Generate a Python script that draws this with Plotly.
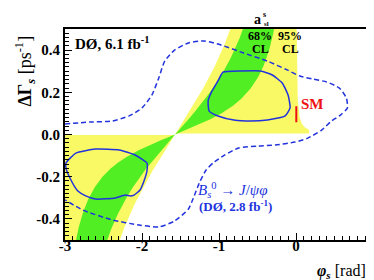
import numpy as np
import plotly.graph_objects as go

# ---------------- data ----------------
X_TICKS = [-3, -2, -1, 0, 1]
X_TICK_TEXT = ["-3", "-2", "-1", "0", "1"]
Y_TICKS = [-0.4, -0.2, 0.0, 0.2, 0.4]
Y_TICK_TEXT = ["-0.4", "-0.2", "0.0", "0.2", "0.4"]

# a_sl^s band limits (DØ 6.1 fb^-1), converted through dGamma = a_sl * dM_s / tan(phi_s)
DELTA_MS = 17.77
ASL_95 = [-0.0321, 0.00022]
ASL_68 = [-0.0231, -0.0082]

# Standard model point
SM_PHI = 0.004
SM_DG = [0.058, 0.134]

# B_s -> J/psi phi 68% CL contours (solid)
C68_UP_PHI = [-0.949, -0.718, -0.462, -0.308, -0.179, -0.103, -0.077, -0.141, -0.372,
              -0.590, -0.808, -1.013, -1.128, -1.141, -1.103, -1.013, -0.974, -0.949]
C68_UP_DG = [0.296, 0.301, 0.301, 0.282, 0.244, 0.187, 0.126, 0.088, 0.069,
             0.064, 0.069, 0.088, 0.111, 0.159, 0.197, 0.254, 0.282, 0.296]
C68_LO_PHI = [-2.987, -2.859, -2.603, -2.295, -2.090, -1.936, -1.936, -1.974, -2.026,
              -2.103, -2.154, -2.218, -2.346, -2.603, -2.731, -2.833, -2.936, -2.987, -2.987]
C68_LO_DG = [-0.135, -0.088, -0.069, -0.073, -0.097, -0.135, -0.173, -0.220, -0.263,
             -0.287, -0.291, -0.287, -0.301, -0.306, -0.291, -0.268, -0.206, -0.159, -0.135]

# B_s -> J/psi phi 95% CL contour (dashed)
C95_PHI = [-3.0, -2.679, -2.385, -2.167, -2.0, -1.872, -1.782, -1.705, -1.577, -1.397,
           -1.192, -0.974, -0.679, -0.372, -0.115, 0.051, 0.218, 0.397, 0.564, 0.654,
           0.667, 0.577, 0.462, 0.333, 0.154, -0.013, -0.269, -0.487, -0.744, -0.949,
           -1.077, -1.167, -1.256, -1.333, -1.397, -1.577, -1.782, -2.038, -2.385,
           -2.769, -3.0]
C95_DG = [0.050, 0.059, 0.064, 0.088, 0.126, 0.187, 0.268, 0.348, 0.400, 0.434,
          0.443, 0.424, 0.386, 0.348, 0.306, 0.277, 0.263, 0.249, 0.220, 0.173,
          0.126, 0.092, 0.064, 0.021, -0.017, -0.036, -0.050, -0.055, -0.064, -0.102,
          -0.135, -0.168, -0.230, -0.301, -0.353, -0.410, -0.438, -0.429, -0.405,
          -0.358, -0.310]

# ---------------- styles ----------------
YELLOW = "#F9F966"
GREEN = "#50EE22"
BLUE = "#2233DD"
RED = "#EE1111"
SERIF = "Liberation Serif"
CLIP = 0.7


def dgam(a, phi):
    with np.errstate(divide="ignore", invalid="ignore"):
        v = a * DELTA_MS / np.tan(phi)
    return np.clip(np.nan_to_num(v, nan=CLIP, posinf=CLIP, neginf=-CLIP), -CLIP, CLIP)


fig = go.Figure()

# ---- 95% CL a_sl band (yellow) ----
phi_u = np.linspace(-np.pi / 2 + 1e-4, 0.17, 900)
up_u = np.where(phi_u < 0, dgam(ASL_95[0], phi_u), dgam(ASL_95[1], phi_u))
fig.add_trace(go.Scatter(
    x=np.concatenate([phi_u, phi_u[::-1]]),
    y=np.concatenate([up_u, np.full_like(phi_u, 0.005)]),
    fill="toself", fillcolor=YELLOW, line=dict(width=0), mode="lines", hoverinfo="skip"))

phi_l = np.linspace(-3.1, -np.pi / 2 - 1e-4, 900)
lo_l = dgam(ASL_95[0], phi_l)
fig.add_trace(go.Scatter(
    x=np.concatenate([phi_l, phi_l[::-1]]),
    y=np.concatenate([lo_l, np.full_like(phi_l, -0.002)]),
    fill="toself", fillcolor=YELLOW, line=dict(width=0), mode="lines", hoverinfo="skip"))

# ---- 68% CL a_sl band (green) ----
phi_g = np.linspace(-np.pi / 2 + 1e-4, -1e-4, 900)
fig.add_trace(go.Scatter(
    x=np.concatenate([phi_g, phi_g[::-1]]),
    y=np.concatenate([dgam(ASL_68[1], phi_g), dgam(ASL_68[0], phi_g)[::-1]]),
    fill="toself", fillcolor=GREEN, line=dict(width=0), mode="lines", hoverinfo="skip"))
phi_gl = np.linspace(-np.pi + 1e-4, -np.pi / 2 - 1e-4, 900)
fig.add_trace(go.Scatter(
    x=np.concatenate([phi_gl, phi_gl[::-1]]),
    y=np.concatenate([dgam(ASL_68[1], phi_gl), dgam(ASL_68[0], phi_gl)[::-1]]),
    fill="toself", fillcolor=GREEN, line=dict(width=0), mode="lines", hoverinfo="skip"))

# ---- J/psi phi contours ----
fig.add_trace(go.Scatter(x=C95_PHI, y=C95_DG, mode="lines",
                         line=dict(color=BLUE, width=1.5, dash="5px,3px", shape="spline", smoothing=0.6)))
fig.add_trace(go.Scatter(x=C68_UP_PHI, y=C68_UP_DG, mode="lines",
                         line=dict(color=BLUE, width=1.5, shape="spline", smoothing=0.5)))
fig.add_trace(go.Scatter(x=C68_LO_PHI, y=C68_LO_DG, mode="lines",
                         line=dict(color=BLUE, width=1.5, shape="spline", smoothing=0.5)))

# ---- SM ----
fig.add_trace(go.Scatter(x=[SM_PHI, SM_PHI], y=SM_DG, mode="lines",
                         line=dict(color=RED, width=2)))

# ---------------- layout ----------------
L, R, T, B, W, H = 57, 5, 21, 48, 374, 280
PW, PH = W - L - R, H - T - B


def px(x):
    return (x - L) / PW


def py(y):
    return (H - B - y) / PH


ann = []


def add(text, x, y, size, color="black", xanchor="center", yanchor="middle", angle=0):
    ann.append(dict(text=text, x=px(x), y=py(y), xref="paper", yref="paper",
                    xanchor=xanchor, yanchor=yanchor, showarrow=False, textangle=angle,
                    borderpad=0,
                    font=dict(family=SERIF, size=size, color=color)))


add("<b>DØ, 6.1 fb<sup>-1</sup></b>", 66, 35, 15, xanchor="left")
add("<b>a</b>", 252, 12, 14)
add("<b>s</b>", 259.5, 7, 8)
add("<b>sl</b>", 261, 16, 7)
add("<b>68%</b>", 255, 28, 12)
add("<b>CL</b>", 255, 41, 12)
add("<b>95%</b>", 285, 28, 12)
add("<b>CL</b>", 285, 41, 12)
add("<b>SM</b>", 308, 96, 15, color=RED)
add("<i>B</i><sub><i>s</i></sub><sup>0</sup> → <i>J</i>/<i>ψφ</i>", 191, 182, 15, color=BLUE, xanchor="left")
add("<b>(DØ, 2.8 fb<sup>-1</sup>)</b>", 230, 198, 13, color=BLUE)
add("<b>ΔΓ</b><sub><b><i>s</i></b></sub> [ps<sup>-1</sup>]", 17, 63, 18, angle=-90)
add("<b><i>φ</i></b><sub><b><i>s</i></b></sub> [rad]", 311, 263, 16, xanchor="left")

axis_common = dict(
    showgrid=False, zeroline=False, showline=True, linecolor="black", linewidth=2,
    mirror=True, ticks="inside", ticklen=7, tickwidth=1, tickcolor="black",
    tickfont=dict(family=SERIF, size=15, color="black", weight="bold"),
    tickmode="array",
)

fig.update_layout(
    width=W, height=H, margin=dict(l=L, r=R, t=T, b=B),
    plot_bgcolor="white", paper_bgcolor="white", showlegend=False,
    xaxis=dict(range=[-3, 1], tickvals=X_TICKS, ticktext=X_TICK_TEXT, ticklabelstandoff=-9,
               minor=dict(tickmode="linear", tick0=-3, dtick=0.1, ticks="inside",
                          ticklen=4, tickcolor="black"), **axis_common),
    yaxis=dict(range=[-0.5, 0.5], tickvals=Y_TICKS, ticktext=Y_TICK_TEXT,
               minor=dict(tickmode="linear", tick0=0, dtick=0.02, ticks="inside",
                          ticklen=4, tickcolor="black"), **axis_common),
    annotations=ann,
)

fig.write_html("out.html")
